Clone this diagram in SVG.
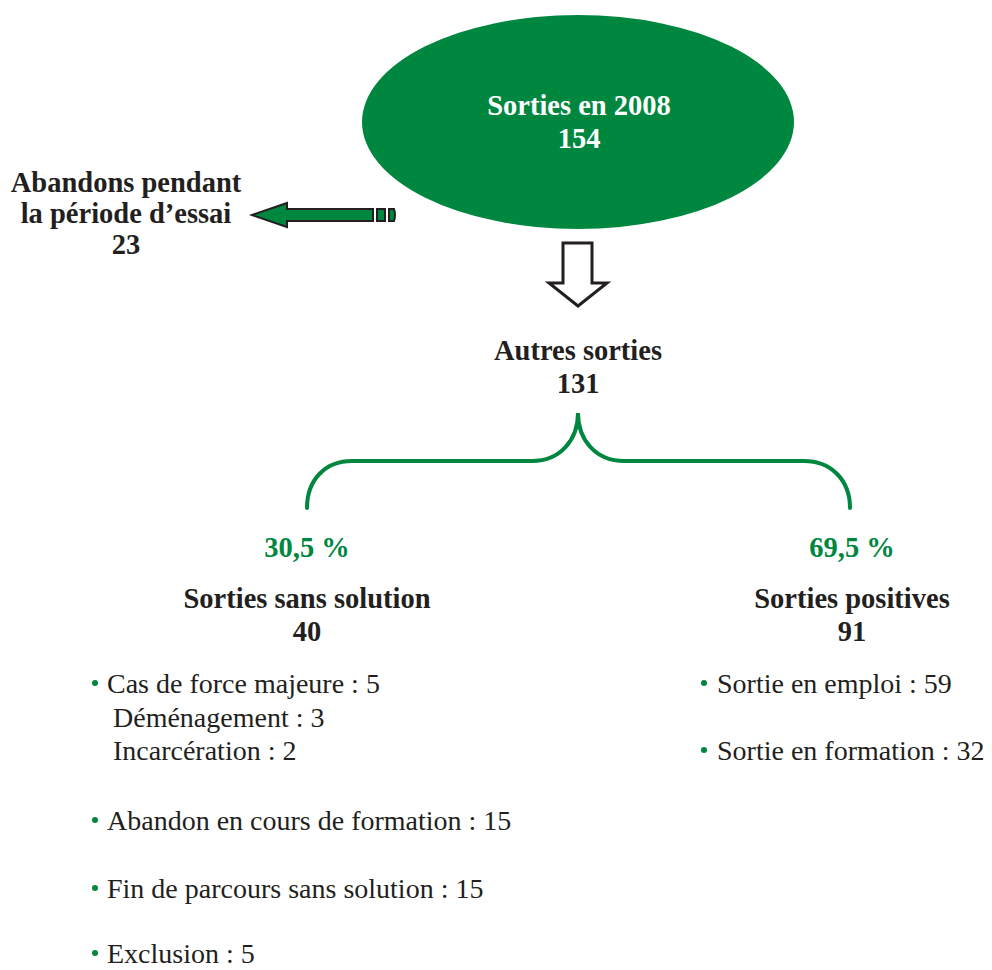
<svg xmlns="http://www.w3.org/2000/svg" width="992" height="970" viewBox="0 0 992 970">
<style>
text{font-family:"Liberation Serif","DejaVu Serif",serif;font-size:28px;fill:#231f20}
.b{font-weight:bold;font-size:28.5px}
.c{text-anchor:middle}
.w{fill:#ffffff}
.g{fill:#00873f}
.dot{fill:#00873f}
</style>
<rect width="992" height="970" fill="#ffffff"/>
<g id="root">
<ellipse cx="578" cy="122" rx="216" ry="107" fill="#00873f"/>
<text class="b c w" x="579" y="115">Sorties en 2008</text>
<text class="b c w" x="579" y="148">154</text>
</g>
<g id="abandons">
<text class="b c" x="126" y="192">Abandons pendant</text>
<text class="b c" x="126" y="223">la période d’essai</text>
<text class="b c" x="126" y="254">23</text>
</g>
<g id="autres">
<text class="b c" x="578" y="360">Autres sorties</text>
<text class="b c" x="578" y="393">131</text>
</g>
<g id="sans-solution">
<text class="b c g" x="307" y="557">30,5 %</text>
<text class="b c" x="307" y="608">Sorties sans solution</text>
<text class="b c" x="307" y="641">40</text>
<circle class="dot" cx="95" cy="683" r="3"/>
<text x="107" y="693">Cas de force majeure : 5</text>
<text x="113" y="727">Déménagement : 3</text>
<text x="113" y="760">Incarcération : 2</text>
<circle class="dot" cx="95" cy="820" r="3"/>
<text x="107" y="830">Abandon en cours de formation : 15</text>
<circle class="dot" cx="95" cy="888" r="3"/>
<text x="107" y="898">Fin de parcours sans solution : 15</text>
<circle class="dot" cx="95" cy="953" r="3"/>
<text x="107" y="963">Exclusion : 5</text>
</g>
<g id="positives">
<text class="b c g" x="852" y="557">69,5 %</text>
<text class="b c" x="852" y="608">Sorties positives</text>
<text class="b c" x="852" y="641">91</text>
<circle class="dot" cx="704" cy="683" r="3"/>
<text x="717" y="693">Sortie en emploi : 59</text>
<circle class="dot" cx="704" cy="750" r="3"/>
<text x="717" y="760">Sortie en formation : 32</text>
</g>
<g id="connectors">
<path d="M252,215 L287,203 L287,209 L373,209 L373,221 L287,221 L287,227 Z" fill="#00873f" stroke="#231f20" stroke-width="2" stroke-linejoin="miter"/>
<rect x="377" y="209" width="8" height="12" fill="#00873f" stroke="#231f20" stroke-width="2"/>
<path d="M389,209 L394,209 Q396,215 394,221 L389,221 Z" fill="#00873f" stroke="#231f20" stroke-width="2"/>
<path d="M563,243 L592,243 L592,283 L607,283 L578,306 L549,283 L563,283 Z" fill="#ffffff" stroke="#231f20" stroke-width="3" stroke-linejoin="miter"/>
<path d="M307,508 C307,480 325,461 352,461 L532,461 C560,461 578,440 578,413 C578,440 596,461 624,461 L804,461 C831,461 850,480 850,508" fill="none" stroke="#00873f" stroke-width="4" stroke-linecap="round"/>
</g>
</svg>
